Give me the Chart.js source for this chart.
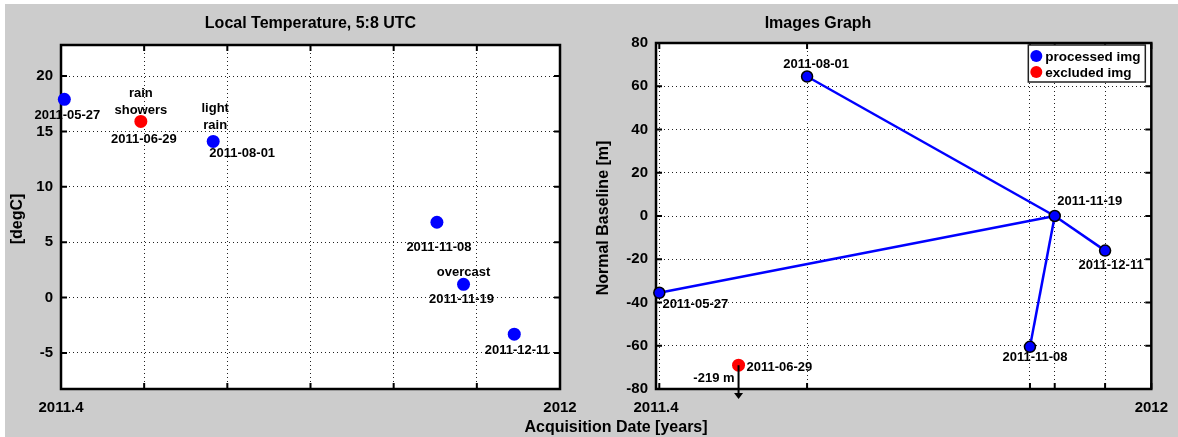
<!DOCTYPE html>
<html>
<head>
<meta charset="utf-8">
<script src="https://cdn.jsdelivr.net/npm/chart.js@4.4.1/dist/chart.umd.min.js"></script>
<style>
    html, body { margin: 0; padding: 0; background: #fff; }
    #fig { position: absolute; left: 0; top: 0; width: 1178px; height: 437px; background: #fff; overflow: hidden; }
    #bg { position: absolute; left: 5px; top: 4px; right: 0; bottom: 0; background: #cccccc; }
    #c1 { position: absolute; left: 0; top: 0; }
    #c2 { position: absolute; left: 590px; top: 0; }
    #xtitle {
        position: absolute; left: 496px; top: 417px; width: 240px; text-align: center;
        font: bold 16px "Liberation Sans", Arial, sans-serif; color: #000; line-height: 20px;
    }
</style>
</head>
<body>
<div id="fig">
    <div id="bg"></div>
    <canvas id="c1" width="590" height="437"></canvas>
    <canvas id="c2" width="588" height="437"></canvas>
    <div id="xtitle">Acquisition Date [years]</div>
</div>
<script>
// ---- left panel: local temperature ----
const tempDates = ["2011-05-27", "2011-06-29", "2011-08-01", "2011-11-08", "2011-11-19", "2011-12-11"]
const tempYears = [2011.404, 2011.496, 2011.583, 2011.852, 2011.884, 2011.945]
const tempValues = [17.9, 15.9, 14.1, 6.8, 1.2, -3.3]
const tempWeather = [[], ["rain", "showers"], ["light", "rain"], [], ["overcast"], []]
const tempExcluded = [false, true, false, false, false, false]
const tempXTicks = [2011.4, 2011.5, 2011.6, 2011.7, 2011.8, 2011.9, 2012]
const tempXLabels = ["2011.4", "", "", "", "", "", "2012"]
const tempYTicks = [-5, 0, 5, 10, 15, 20]

// ---- right panel: images graph ----
const imgDates = ["2011-05-27", "2011-08-01", "2011-11-08", "2011-11-19", "2011-12-11"]
const imgYears = [2011.404, 2011.583, 2011.853, 2011.883, 2011.944]
const imgBaseline = [-35.5, 64.5, -60.5, 0, -16]
const exclDates = ["2011-06-29"]
const exclYears = [2011.5]
const exclShown = [-69]      // where the marker sits, the real value is off the axis
const exclBaseline = [-219]
const graphEdges = [[1, 3], [0, 3], [2, 3], [3, 4]]
const graphXTicks = [2011.4, 2011.404, 2011.583, 2011.853, 2011.883, 2011.944, 2012]
const graphXLabels = ["2011.4", "", "", "", "", "", "2012"]
const graphYTicks = [-80, -60, -40, -20, 0, 20, 40, 60, 80]

const FONT = '"Liberation Sans", Arial, sans-serif'
const BLUE = "#0000ff"
const RED = "#ff0000"
const INK = "#000"

// label offsets (px from marker centre), kept apart from the data
const tempLabelOffsets = [[3, 16], [3, 18], [29, 12], [2, 25], [-2, 15], [3, 16]]
const tempWeatherOffsets = [[0, 0], [0, -28], [2, -33], [0, 0], [0, -12], [0, 0]]
const imgLabelOffsets = [[36, 12], [9, -12], [5, 11], [35, -15], [6, 15]]

const matlabAxes = {
    id: "matlabAxes",
    beforeDraw(chart) {
        const { ctx, chartArea: a } = chart
        ctx.save()
        ctx.fillStyle = "#fff"
        ctx.fillRect(a.left, a.top, a.right - a.left, a.bottom - a.top)
        ctx.restore()
    },
    beforeDatasetsDraw(chart) {
        const { ctx, chartArea: a, scales } = chart
        ctx.save()
        ctx.strokeStyle = "#000"
        ctx.lineWidth = 2
        const len = 6
        scales.x.ticks.forEach((t) => {
            const px = scales.x.getPixelForValue(t.value)
            ctx.beginPath()
            ctx.moveTo(px, a.bottom); ctx.lineTo(px, a.bottom - len)
            ctx.moveTo(px, a.top); ctx.lineTo(px, a.top + len)
            ctx.stroke()
        })
        scales.y.ticks.forEach((t) => {
            const py = scales.y.getPixelForValue(t.value)
            ctx.beginPath()
            ctx.moveTo(a.left, py); ctx.lineTo(a.left + len, py)
            ctx.moveTo(a.right, py); ctx.lineTo(a.right - len, py)
            ctx.stroke()
        })
        ctx.lineWidth = 2.5
        ctx.strokeRect(a.left, a.top, a.right - a.left, a.bottom - a.top)
        ctx.restore()
    },
    afterDraw(chart) {
        const o = chart.options.plugins.matlabAxes
        const { ctx, chartArea: a } = chart
        ctx.save()
        ctx.fillStyle = INK
        ctx.font = "bold 16px " + FONT
        ctx.textAlign = "center"
        ctx.textBaseline = "middle"
        ctx.fillText(o.title, o.titleX ?? (a.left + a.right) / 2, 24)
        ctx.translate(o.yTitleX, (a.top + a.bottom) / 2 + 2)
        ctx.rotate(-Math.PI / 2)
        ctx.fillText(o.yTitle, 0, 0)
        ctx.restore()
    },
}

function axisOpts(ticks, labels, min, max, isX) {
    return {
        type: "linear",
        min: min,
        max: max,
        afterBuildTicks: (scale) => {
            scale.ticks = ticks.map((v) => ({ value: v }))
        },
        afterFit: (scale) => {
            if (isX) scale.height = 48
            else scale.width = 40
        },
        grid: { color: "#222", lineWidth: 1, drawTicks: false },
        border: { display: false, dash: [1, 3] },
        ticks: {
            autoSkip: false,
            maxRotation: 0,
            padding: isX ? 10 : 8,
            color: INK,
            font: { family: FONT, weight: "bold", size: 15 },
            callback: (v, i) => (labels ? labels[i] : String(v)),
        },
    }
}

function drawText(ctx, lines, x, y, align) {
    ctx.textAlign = align || "center"
    lines.forEach((s, k) => ctx.fillText(s, x, y + k * 17))
}

// ---------- left chart ----------
const tempLabels = {
    id: "tempLabels",
    afterDatasetsDraw(chart) {
        const { ctx, scales } = chart
        ctx.save()
        ctx.fillStyle = INK
        ctx.font = "bold 13px " + FONT
        ctx.textBaseline = "middle"
        tempYears.forEach((yr, i) => {
            const px = scales.x.getPixelForValue(yr)
            const py = scales.y.getPixelForValue(tempValues[i])
            const d = tempLabelOffsets[i]
            drawText(ctx, [tempDates[i]], px + d[0], py + d[1])
            if (tempWeather[i].length) {
                const o = tempWeatherOffsets[i]
                drawText(ctx, tempWeather[i], px + o[0], py + o[1])
            }
        })
        ctx.restore()
    },
}

new Chart(document.getElementById("c1"), {
    type: "scatter",
    data: {
        datasets: [
            {
                label: "temperature",
                data: tempYears.map((x, i) => ({ x: x, y: tempValues[i] })),
                pointRadius: 6.5,
                pointBackgroundColor: tempExcluded.map((e) => (e ? RED : BLUE)),
                pointBorderWidth: 0,
                clip: false,
            },
        ],
    },
    options: {
        responsive: false,
        animation: false,
        devicePixelRatio: 1,
        layout: { padding: { left: 21, right: 30, top: 45, bottom: 0 } },
        plugins: {
            legend: { display: false },
            tooltip: { enabled: false },
            matlabAxes: { title: "Local Temperature, 5:8 UTC", yTitle: "[degC]", yTitleX: 18 },
        },
        scales: {
            x: axisOpts(tempXTicks, tempXLabels, 2011.4, 2012, true),
            y: axisOpts(tempYTicks, null, -8.25, 22.8, false),
        },
    },
    plugins: [matlabAxes, tempLabels],
})

// ---------- right chart ----------
const graphExtras = {
    id: "graphExtras",
    afterDatasetsDraw(chart) {
        const { ctx, scales, chartArea: a } = chart
        ctx.save()
        ctx.fillStyle = INK
        ctx.strokeStyle = INK
        ctx.font = "bold 13px " + FONT
        ctx.textBaseline = "middle"
        imgYears.forEach((yr, i) => {
            const px = scales.x.getPixelForValue(yr)
            const py = scales.y.getPixelForValue(imgBaseline[i])
            const d = imgLabelOffsets[i]
            drawText(ctx, [imgDates[i]], px + d[0], py + d[1])
        })
        exclYears.forEach((yr, i) => {
            const px = scales.x.getPixelForValue(yr)
            const py = scales.y.getPixelForValue(exclShown[i])
            drawText(ctx, [exclDates[i]], px + 8, py + 2, "left")
            drawText(ctx, [exclBaseline[i] + " m"], px - 4, py + 13, "right")
            // arrow pointing off the axis
            const tip = a.bottom + 10
            ctx.lineWidth = 2
            ctx.beginPath()
            ctx.moveTo(px, py)
            ctx.lineTo(px, tip - 4)
            ctx.stroke()
            ctx.beginPath()
            ctx.moveTo(px - 4.5, tip - 6)
            ctx.lineTo(px + 4.5, tip - 6)
            ctx.lineTo(px, tip)
            ctx.closePath()
            ctx.fill()
        })

        // legend box
        const ds = chart.data.datasets
        const lx = a.right - 123, ly = a.top + 2, lw = 117, lh = 37
        ctx.fillStyle = "#fff"
        ctx.fillRect(lx, ly, lw, lh)
        ctx.lineWidth = 1.5
        ctx.strokeStyle = "#222"
        ctx.strokeRect(lx, ly, lw, lh)
        ;[0, 1].forEach((k) => {
            const cy = ly + 11 + k * 16
            ctx.beginPath()
            ctx.arc(lx + 8, cy, 6, 0, Math.PI * 2)
            ctx.fillStyle = ds[k].backgroundColor
            ctx.fill()
            ctx.fillStyle = INK
            ctx.font = "bold 13.5px " + FONT
            ctx.textAlign = "left"
            ctx.fillText(ds[k].label, lx + 17, cy + 1)
        })
        ctx.restore()
    },
}

const edgeSets = graphEdges.map(([a, b]) => ({
    label: "edge",
    data: [
        { x: imgYears[a], y: imgBaseline[a] },
        { x: imgYears[b], y: imgBaseline[b] },
    ],
    showLine: true,
    borderColor: BLUE,
    borderWidth: 2.5,
    pointRadius: 0,
    order: 1,
    clip: false,
}))

new Chart(document.getElementById("c2"), {
    type: "scatter",
    data: {
        datasets: [
            {
                label: "processed img",
                data: imgYears.map((x, i) => ({ x: x, y: imgBaseline[i] })),
                backgroundColor: BLUE,
                pointBackgroundColor: BLUE,
                pointBorderColor: "#000",
                pointBorderWidth: 1.5,
                pointRadius: 5.5,
                order: 0,
                clip: false,
            },
            {
                label: "excluded img",
                data: exclYears.map((x, i) => ({ x: x, y: exclShown[i] })),
                backgroundColor: RED,
                pointBackgroundColor: RED,
                pointBorderWidth: 0,
                pointRadius: 6.5,
                order: 0,
                clip: false,
            },
            ...edgeSets,
        ],
    },
    options: {
        responsive: false,
        animation: false,
        devicePixelRatio: 1,
        layout: { padding: { left: 26, right: 23, top: 43, bottom: 0 } },
        plugins: {
            legend: { display: false },
            tooltip: { enabled: false },
            matlabAxes: { title: "Images Graph", titleX: 228, yTitle: "Normal Baseline [m]", yTitleX: 14 },
        },
        scales: {
            x: axisOpts(graphXTicks, graphXLabels, 2011.4, 2012, true),
            y: axisOpts(graphYTicks, null, -80, 80, false),
        },
    },
    plugins: [matlabAxes, graphExtras],
})
</script>
</body>
</html>
